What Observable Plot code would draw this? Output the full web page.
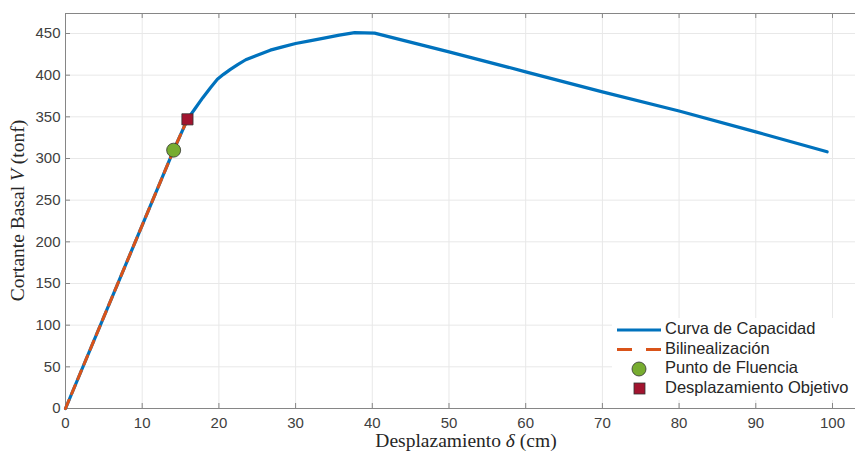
<!DOCTYPE html>
<html><head><meta charset="utf-8">
<script src="https://cdn.jsdelivr.net/npm/d3@7"></script>
<script src="https://cdn.jsdelivr.net/npm/@observablehq/plot@0.6"></script>
<style>body{margin:0;background:#fff} #chart{position:relative;width:855px;height:455px}</style>
</head><body><div id="chart"></div>
<script>
// Capacity curve (displacement cm, base shear tonf)
const curveX = [0, 14.1, 15.9, 16.9, 17.9, 18.9, 19.8, 20.6, 21.5, 22.5, 23.5, 25.0, 26.7, 28.3, 30.0, 32.0, 33.7, 35.7, 37.7, 40.3, 50.0, 60.0, 70.0, 80.0, 90.0, 99.3];
const curveY = [0, 310, 347, 360, 373, 385, 395, 401, 407, 413, 418.5, 424, 430, 434, 438, 441.5, 444.5, 448, 451, 450.5, 428, 404, 380, 357, 332, 308];
// Bilinearization
const bilinX = [0, 14.1, 15.9];
const bilinY = [0, 310, 347];
// Markers
const yieldX = [14.1], yieldY = [310];
const targetX = [15.9], targetY = [347];
// Ticks
const xTicks = [0, 10, 20, 30, 40, 50, 60, 70, 80, 90, 100];
const yTicks = [0, 50, 100, 150, 200, 250, 300, 350, 400, 450];
const xDomain = [0, 103];
const yDomain = [0, 474];
const legendLabels = ["Curva de Capacidad", "Bilinealización", "Punto de Fluencia", "Desplazamiento Objetivo"];

const W = 855, H = 455, mL = 65, mR = 0, mT = 13, mB = 47;
const iw = W - mL - mR, ih = H - mT - mB;
const axisCol = "#868686", gridCol = "#e8e8e8", txtCol = "#404040";
const blue = "#0072BD", orange = "#D95319", green = "#77AC30", red = "#A2142F";

const curve = curveX.map((x, i) => ({x, y: curveY[i]}));
const bilin = bilinX.map((x, i) => ({x, y: bilinY[i]}));
const yieldPts = yieldX.map((x, i) => ({x, y: yieldY[i]}));
const targetPts = targetX.map((x, i) => ({x, y: targetY[i]}));

const svg = Plot.plot({
  width: W, height: H,
  marginLeft: mL, marginRight: mR, marginTop: mT, marginBottom: mB,
  style: {fontFamily: "'Liberation Sans', Arial, sans-serif", background: "#fff", overflow: "visible"},
  x: {domain: xDomain},
  y: {domain: yDomain},
  marks: [
    Plot.gridX(xTicks, {stroke: gridCol, strokeOpacity: 1}),
    Plot.gridY(yTicks, {stroke: gridCol, strokeOpacity: 1}),
    Plot.tickX(xTicks, {x: d => d, insetTop: ih - 5, stroke: axisCol}),
    Plot.tickX(xTicks, {x: d => d, insetBottom: ih - 5, stroke: axisCol}),
    Plot.tickY(yTicks, {y: d => d, insetRight: iw - 5, stroke: axisCol}),
    Plot.ruleX([xDomain[0]], {stroke: axisCol}),
    Plot.ruleY(yDomain, {stroke: axisCol}),
    Plot.axisX(xTicks, {tickSize: 0, tickPadding: 9, fontSize: 15, fill: txtCol, label: null}),
    Plot.axisY(yTicks, {tickSize: 0, tickPadding: 5, fontSize: 15, fill: txtCol, label: null}),
    Plot.line(curve, {x: "x", y: "y", stroke: blue, strokeWidth: 3.2, strokeLinejoin: "round"}),
    Plot.line(bilin, {x: "x", y: "y", stroke: orange, strokeWidth: 3, strokeDasharray: "9,7"}),
    Plot.dot(yieldPts, {x: "x", y: "y", r: 7, fill: green, stroke: "#333", strokeWidth: 0.8, symbol: "circle"}),
    Plot.dot(targetPts, {x: "x", y: "y", r: 6.3, fill: red, stroke: "#333", strokeWidth: 0.8, symbol: "square"})
  ]
});

const g = d3.select(svg);
const serif = "'Liberation Serif', 'Times New Roman', serif";
// x label
const xl = g.append("text").attr("x", mL + iw / 2 + 6).attr("y", 447)
  .attr("text-anchor", "middle").attr("font-family", serif).attr("font-size", 19.5).attr("fill", "#262626");
xl.append("tspan").text("Desplazamiento ");
xl.append("tspan").attr("font-style", "italic").text("δ");
xl.append("tspan").text(" (cm)");
// y label
const yl = g.append("text").attr("transform", `translate(20,${mT + ih / 2}) rotate(-90)`)
  .attr("text-anchor", "middle").attr("dominant-baseline", "middle")
  .attr("font-family", serif).attr("font-size", 19.5).attr("fill", "#262626");
yl.append("tspan").text("Cortante Basal ");
yl.append("tspan").attr("font-style", "italic").text("V");
yl.append("tspan").text(" (tonf)");

// legend
const lg = g.append("g").attr("font-family", "'Liberation Sans', Arial, sans-serif").attr("font-size", 16.5).attr("fill", "#262626").attr("text-anchor", "start");
lg.append("rect").attr("x", 612).attr("y", 318).attr("width", 243).attr("height", 82).attr("fill", "#fff");
const rows = [330, 349.5, 369, 388.5];
lg.append("line").attr("x1", 617).attr("x2", 661).attr("y1", rows[0]).attr("y2", rows[0]).attr("stroke", blue).attr("stroke-width", 3.2);
lg.append("line").attr("x1", 617).attr("x2", 661).attr("y1", rows[1]).attr("y2", rows[1]).attr("stroke", orange).attr("stroke-width", 3).attr("stroke-dasharray", "15,14");
lg.append("circle").attr("cx", 639).attr("cy", rows[2]).attr("r", 7).attr("fill", green).attr("stroke", "#333").attr("stroke-width", 0.8);
lg.append("rect").attr("x", 634).attr("y", rows[3] - 5.5).attr("width", 11).attr("height", 11).attr("fill", red).attr("stroke", "#333").attr("stroke-width", 0.8);
legendLabels.forEach((t, i) => {
  lg.append("text").attr("x", 665).attr("y", rows[i]).attr("dominant-baseline", "middle").attr("text-anchor", "start").text(t);
});

document.getElementById("chart").appendChild(svg);
</script>
</body></html>
